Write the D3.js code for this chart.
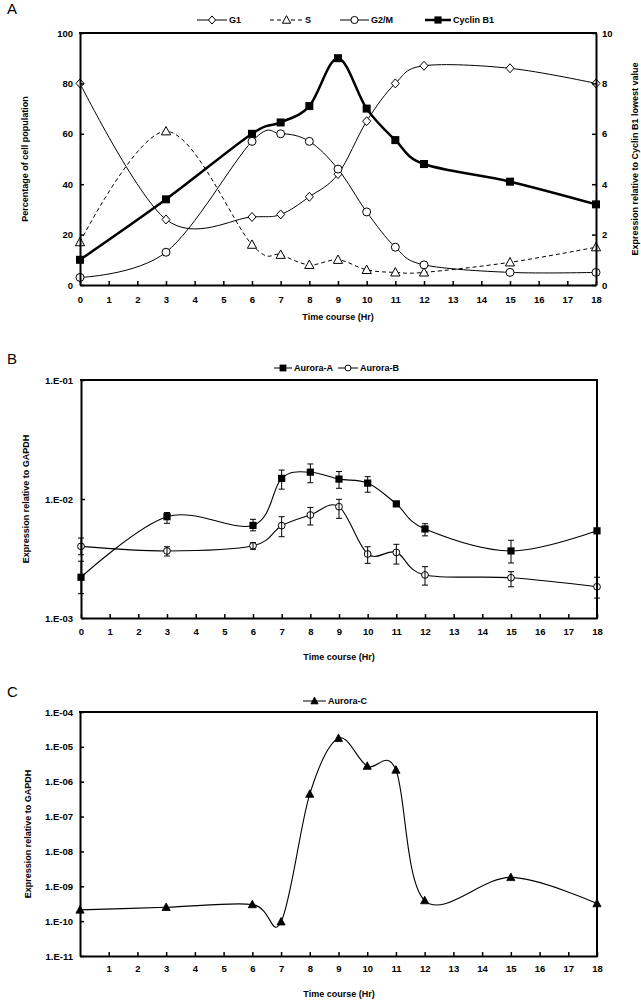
<!DOCTYPE html>
<html><head><meta charset="utf-8">
<script src="https://cdn.jsdelivr.net/npm/d3@7"></script>
<style>body{margin:0;background:#fff} svg{display:block}</style>
</head><body><svg id="c" width="641" height="1000"></svg>
<script>
// ---------- DATA ----------
const hours = [0,3,6,7,8,9,10,11,12,15,18];
const xTicks = [0,1,2,3,4,5,6,7,8,9,10,11,12,13,14,15,16,17,18];
const xTicksC = [1,2,3,4,5,6,7,8,9,10,11,12,13,14,15,16,17,18];
// Panel A
const g1 = [80,26,27,28,35,44,65,80,87,86,80];
const sPhase = [17,61,16,12,8,10,6,5,5,9,15];
const g2m = [3,13,57,60,57,46,29,15,8,5,5];
const cyclinB1 = [1.0,3.4,6.0,6.45,7.1,9.0,7.0,5.75,4.8,4.1,3.2];
const leftTicksA = [0,20,40,60,80,100];
const rightTicksA = [0,2,4,6,8,10];
// Panel B
const auroraA   = [2.2e-3,7.1e-3,6.0e-3,1.49e-2,1.68e-2,1.47e-2,1.36e-2,9.1e-3,5.6e-3,3.66e-3,5.4e-3];
const auroraAHi = [3.0e-3,7.7e-3,6.75e-3,1.75e-2,1.97e-2,1.70e-2,1.54e-2,null,6.2e-3,4.5e-3,null];
const auroraALo = [1.6e-3,6.25e-3,5.4e-3,1.21e-2,1.37e-2,1.23e-2,1.14e-2,null,4.9e-3,2.9e-3,null];
const auroraB   = [4.0e-3,3.66e-3,4.05e-3,5.97e-3,7.34e-3,8.61e-3,3.45e-3,3.56e-3,2.30e-3,2.18e-3,1.83e-3];
const auroraBHi = [4.7e-3,3.97e-3,4.29e-3,7.1e-3,8.5e-3,9.94e-3,3.97e-3,4.16e-3,2.7e-3,2.45e-3,2.2e-3];
const auroraBLo = [3.4e-3,3.32e-3,3.78e-3,4.82e-3,6.05e-3,6.88e-3,2.88e-3,2.84e-3,1.89e-3,1.83e-3,1.47e-3];
const ticksB = [1e-3,1e-2,1e-1];
const tickLabelsB = ["1.E-03","1.E-02","1.E-01"];
// Panel C
const auroraC = [2.1e-10,2.5e-10,3.0e-10,9.6e-11,4.4e-7,1.76e-5,2.8e-6,2.17e-6,3.9e-10,1.8e-9,3.2e-10];
const ticksC = [1e-11,1e-10,1e-9,1e-8,1e-7,1e-6,1e-5,1e-4];
const tickLabelsC = ["1.E-11","1.E-10","1.E-09","1.E-08","1.E-07","1.E-06","1.E-05","1.E-04"];

// ---------- DRAW ----------
const font = '"Liberation Sans", Arial, Helvetica, sans-serif';
const svg = d3.select("#c");
const X0 = 80, X1 = 596;

function styleAxis(sel){
  sel.select(".domain").attr("stroke","#000").attr("stroke-width",2);
  sel.selectAll(".tick line").attr("stroke","#000").attr("stroke-width",1.5);
  sel.selectAll("text").attr("font-family",font).attr("font-size",9.5).attr("font-weight","bold").attr("fill","#000");
}
function txt(x,y,s,opts={}){
  const t = svg.append("text").attr("x",x).attr("y",y).text(s)
    .attr("font-family",font).attr("font-size",opts.size||9).attr("font-weight",opts.weight||"bold")
    .attr("text-anchor",opts.anchor||"start").attr("fill","#000");
  if(opts.rot) t.attr("transform",`rotate(-90,${x},${y})`);
  return t;
}
function hline(x1,x2,y,w){ svg.append("line").attr("x1",x1).attr("x2",x2).attr("y1",y).attr("y2",y).attr("stroke","#000").attr("stroke-width",w); }
function vline(x,y1,y2,w){ svg.append("line").attr("x1",x).attr("x2",x).attr("y1",y1).attr("y2",y2).attr("stroke","#000").attr("stroke-width",w); }

// marker shapes
function marker(g,type,x,y,s){
  s = s||1;
  if(type==="diamond"){
    g.append("path").attr("d",`M${x},${y-4.5*s}L${x+4*s},${y}L${x},${y+4.5*s}L${x-4*s},${y}Z`).attr("fill","#fff").attr("stroke","#000").attr("stroke-width",1);
  } else if(type==="tri"){
    g.append("path").attr("d",`M${x},${y-4.8*s}L${x+4.6*s},${y+3.6*s}L${x-4.6*s},${y+3.6*s}Z`).attr("fill","#fff").attr("stroke","#000").attr("stroke-width",1);
  } else if(type==="triF"){
    g.append("path").attr("d",`M${x},${y-4.6*s}L${x+4.3*s},${y+3.4*s}L${x-4.3*s},${y+3.4*s}Z`).attr("fill","#000").attr("stroke","#000").attr("stroke-width",0.8);
  } else if(type==="circle"){
    g.append("circle").attr("cx",x).attr("cy",y).attr("r",4*s).attr("fill","#fff").attr("stroke","#000").attr("stroke-width",1);
  } else if(type==="square"){
    g.append("rect").attr("x",x-4*s).attr("y",y-4*s).attr("width",8*s).attr("height",8*s).attr("fill","#000");
  }
}
function series(g,xs,ys,vals,opts){
  const line = d3.line().x((d,i)=>xs(hours[i])).y(d=>ys(d)).curve(d3.curveCardinal.tension(0));
  const p = g.append("path").attr("d",line(vals)).attr("fill","none").attr("stroke","#000").attr("stroke-width",opts.w||1);
  if(opts.dash) p.attr("stroke-dasharray",opts.dash);
}
function markers(g,xs,ys,vals,type,s){
  vals.forEach((v,i)=>marker(g,type,xs(hours[i]),ys(v),s));
}
function legendItem(x1,x2,y,type,label,opts={}){
  const l = svg.append("line").attr("x1",x1).attr("x2",x2).attr("y1",y).attr("y2",y).attr("stroke","#000").attr("stroke-width",opts.w||1);
  if(opts.dash) l.attr("stroke-dasharray",opts.dash);
  marker(svg,type,(x1+x2)/2,y,opts.s||0.9);
  txt(x2+2,y+3.3,label);
}

// ===== Panel A =====
{
  const top=33, bot=285;
  const x = d3.scaleLinear().domain([0,18]).range([X0,X1]);
  const y = d3.scaleLinear().domain([0,100]).range([bot,top]);
  const y2 = d3.scaleLinear().domain([0,10]).range([bot,top]);
  const g = svg.append("g");
  series(g,x,y,g1,{w:1});
  series(g,x,y,sPhase,{w:1,dash:"4,3"});
  series(g,x,y,g2m,{w:1});
  series(g,x,y2,cyclinB1,{w:2.5});
  markers(g,x,y,g1,"diamond");
  markers(g,x,y,sPhase,"tri");
  markers(g,x,y,g2m,"circle");
  markers(g,x,y2,cyclinB1,"square");
  svg.append("g").attr("transform",`translate(0,${bot})`)
    .call(d3.axisBottom(x).tickValues(xTicks).tickFormat(d3.format("d")).tickSizeInner(-4).tickSizeOuter(0).tickPadding(11)).call(styleAxis);
  svg.append("g").attr("transform",`translate(${X0},0)`)
    .call(d3.axisLeft(y).tickValues(leftTicksA).tickSizeInner(-4).tickSizeOuter(0).tickPadding(7)).call(styleAxis);
  svg.append("g").attr("transform",`translate(${X1},0)`)
    .call(d3.axisRight(y2).tickValues(rightTicksA).tickSizeInner(-4).tickSizeOuter(0).tickPadding(6)).call(styleAxis);
  hline(X0-1,X1+1,top,2);
  txt(7,14,"A",{size:15,weight:"normal"});
  txt((X0+X1)/2,319.5,"Time course (Hr)",{anchor:"middle"});
  txt(27.5,(top+bot)/2,"Percentage of cell population",{anchor:"middle",rot:true});
  txt(637.5,(top+bot)/2,"Expression relative to Cyclin B1 lowest value",{anchor:"middle",rot:true});
  legendItem(197,227,20,"diamond","G1");
  legendItem(270,303,20,"tri","S",{dash:"4,3"});
  legendItem(340,369,20,"circle","G2/M");
  legendItem(425,451,20,"square","Cyclin B1",{w:2.5});
}

// ===== Panel B =====
{
  const top=380, bot=618;
  const x = d3.scaleLinear().domain([0,18]).range([X0+1,X1+1]);
  const y = d3.scaleLog().domain([1e-3,1e-1]).range([bot,top]);
  const g = svg.append("g");
  series(g,x,y,auroraA,{w:1.1});
  series(g,x,y,auroraB,{w:1.1});
  markers(g,x,y,auroraA,"square",0.9);
  markers(g,x,y,auroraB,"circle",0.85);
  function ebars(hi,lo){
    hours.forEach((h,i)=>{
      if(hi[i]==null) return;
      const xx = x(h);
      vline(xx,y(hi[i]),y(lo[i]),1);
      hline(xx-3,xx+3,y(hi[i]),1);
      hline(xx-3,xx+3,y(lo[i]),1);
    });
  }
  ebars(auroraAHi,auroraALo);
  ebars(auroraBHi,auroraBLo);
  svg.append("g").attr("transform",`translate(0,${bot})`)
    .call(d3.axisBottom(x).tickValues(xTicks).tickFormat(d3.format("d")).tickSizeInner(-4).tickSizeOuter(0).tickPadding(10.5)).call(styleAxis);
  svg.append("g").attr("transform",`translate(${X0+1},0)`)
    .call(d3.axisLeft(y).tickValues(ticksB).tickFormat((d,i)=>tickLabelsB[i]).tickSizeInner(-4).tickSizeOuter(0).tickPadding(8)).call(styleAxis);
  hline(X0,X1+2,top,2);
  vline(X1+1,top-1,bot+1,2);
  txt(7,364,"B",{size:15,weight:"normal"});
  txt((X0+X1)/2+1,660,"Time course (Hr)",{anchor:"middle"});
  txt(28.5,(top+bot)/2,"Expression relative to GAPDH",{anchor:"middle",rot:true});
  legendItem(274,292,368,"square","Aurora-A",{s:0.85});
  legendItem(338,358,368,"circle","Aurora-B",{s:0.75});
}

// ===== Panel C =====
{
  const top=712, bot=956;
  const x = d3.scaleLinear().domain([0,18]).range([X0,X1+1]);
  const y = d3.scaleLog().domain([1e-11,1e-4]).range([bot,top]);
  const g = svg.append("g");
  series(g,x,y,auroraC,{w:1.1});
  markers(g,x,y,auroraC,"triF",0.95);
  svg.append("g").attr("transform",`translate(0,${bot})`)
    .call(d3.axisBottom(x).tickValues(xTicksC).tickFormat(d3.format("d")).tickSizeInner(-4).tickSizeOuter(0).tickPadding(9)).call(styleAxis);
  svg.append("g").attr("transform",`translate(${X0},0)`)
    .call(d3.axisLeft(y).tickValues(ticksC).tickFormat((d,i)=>tickLabelsC[i]).tickSizeInner(-4).tickSizeOuter(0).tickPadding(7)).call(styleAxis);
  hline(X0-1,X1+2,top,2);
  vline(X1+1,top-1,bot+1,2);
  txt(7,697,"C",{size:15,weight:"normal"});
  txt((X0+X1)/2+1,997,"Time course (Hr)",{anchor:"middle"});
  txt(30.5,(top+bot)/2,"Expression relative to GAPDH",{anchor:"middle",rot:true});
  legendItem(303,326,701,"triF","Aurora-C",{s:0.85});
}
</script>
</body></html>
